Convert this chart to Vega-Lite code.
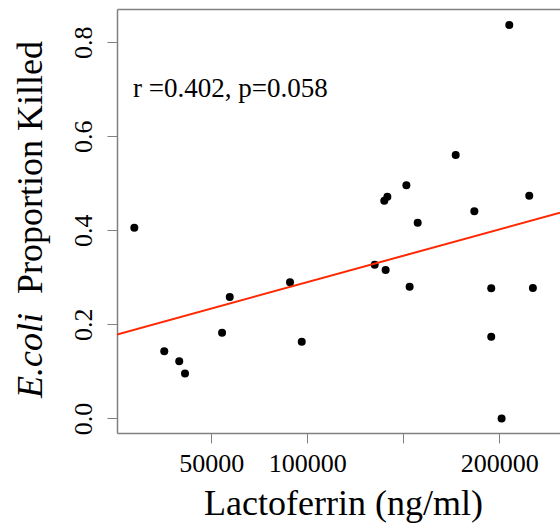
{
  "$schema": "https://vega.github.io/schema/vega-lite/v6.json",
  "autosize": {"type": "none"},
  "padding": {"left": 117, "top": 9, "right": 0, "bottom": 96},
  "width": 443,
  "height": 424,
  "background": "white",
  "config": {
    "font": "Liberation Serif",
    "view": {"stroke": null},
    "text": {"font": "Liberation Serif"},
    "axis": {
      "domainColor": "#808080",
      "tickColor": "#808080",
      "domainWidth": 1.5,
      "tickWidth": 1,
      "tickSize": 10,
      "grid": false,
      "labelColor": "black",
      "titleColor": "black",
      "labelFont": "Liberation Serif",
      "titleFont": "Liberation Serif",
      "labelFontWeight": "normal",
      "titleFontWeight": "normal"
    }
  },
  "layer": [
    {
      "data": {
        "values": [
          {"lactoferrin": 9900, "killed": 0.4055},
          {"lactoferrin": 25500, "killed": 0.1426},
          {"lactoferrin": 33300, "killed": 0.1213},
          {"lactoferrin": 36300, "killed": 0.0957},
          {"lactoferrin": 55600, "killed": 0.1821},
          {"lactoferrin": 59600, "killed": 0.2581},
          {"lactoferrin": 91000, "killed": 0.2894},
          {"lactoferrin": 97100, "killed": 0.1630},
          {"lactoferrin": 135100, "killed": 0.3268},
          {"lactoferrin": 140800, "killed": 0.3155},
          {"lactoferrin": 140100, "killed": 0.4630},
          {"lactoferrin": 141700, "killed": 0.4715},
          {"lactoferrin": 151600, "killed": 0.4957},
          {"lactoferrin": 153300, "killed": 0.2800},
          {"lactoferrin": 157500, "killed": 0.4162},
          {"lactoferrin": 177300, "killed": 0.5602},
          {"lactoferrin": 187000, "killed": 0.4404},
          {"lactoferrin": 195800, "killed": 0.2766},
          {"lactoferrin": 195800, "killed": 0.1736},
          {"lactoferrin": 201200, "killed": 0.0},
          {"lactoferrin": 205200, "killed": 0.8368},
          {"lactoferrin": 215600, "killed": 0.4736},
          {"lactoferrin": 217500, "killed": 0.2772}
        ]
      },
      "mark": {"type": "circle", "size": 64, "color": "black", "opacity": 1},
      "encoding": {
        "x": {
          "field": "lactoferrin",
          "type": "quantitative",
          "scale": {"domain": [885, 231615], "nice": false, "zero": false},
          "axis": {
            "orient": "bottom",
            "values": [50000, 100000, 150000, 200000],
            "labelExpr": "datum.value == 150000 ? '' : format(datum.value, 'd')",
            "labelFont": "Liberation Serif",
            "labelFontSize": 26,
            "labelBaseline": "alphabetic",
            "labelPadding": 28,
            "labelFlush": false,
            "labelOverlap": false,
            "title": "Lactoferrin (ng/ml)",
            "titleFont": "Liberation Serif",
            "titleFontSize": 36,
            "titleX": 226,
            "titleY": 81,
            "titleBaseline": "alphabetic",
            "titleAlign": "center"
          }
        },
        "y": {
          "field": "killed",
          "type": "quantitative",
          "scale": {"domain": [-0.0311, 0.8709], "nice": false, "zero": false},
          "axis": {
            "orient": "left",
            "values": [0, 0.2, 0.4, 0.6, 0.8],
            "format": ".1f",
            "labelFont": "Liberation Serif",
            "labelFontSize": 26,
            "labelAngle": -90,
            "labelAlign": "center",
            "labelBaseline": "alphabetic",
            "labelPadding": 16,
            "labelFlush": false,
            "labelOverlap": false,
            "title": "Proportion Killed",
            "titleFont": "Liberation Serif",
            "titleFontSize": 36,
            "titleAngle": -90,
            "titleX": -76,
            "titleY": 158,
            "titleAlign": "center",
            "titleBaseline": "alphabetic"
          }
        }
      }
    },
    {
      "data": {
        "values": [
          {"lactoferrin": 885, "killed": 0.1786},
          {"lactoferrin": 231615, "killed": 0.4375}
        ]
      },
      "mark": {"type": "line", "color": "#ff2800", "strokeWidth": 2, "clip": true},
      "encoding": {
        "x": {
          "field": "lactoferrin",
          "type": "quantitative",
          "scale": {"domain": [885, 231615], "nice": false, "zero": false},
          "axis": {"orient": "top", "labels": false, "ticks": false, "domain": true, "title": null}
        },
        "y": {
          "field": "killed",
          "type": "quantitative",
          "scale": {"domain": [-0.0311, 0.8709], "nice": false, "zero": false},
          "axis": {
            "orient": "left",
            "labels": false,
            "ticks": false,
            "domain": false,
            "title": "E.coli",
            "titleFont": "Liberation Serif",
            "titleFontSize": 36,
            "titleFontStyle": "italic",
            "titleAngle": -90,
            "titleX": -76,
            "titleY": 346,
            "titleAlign": "center",
            "titleBaseline": "alphabetic"
          }
        }
      }
    },
    {
      "data": {"values": [{"label": "r =0.402, p=0.058"}]},
      "mark": {"type": "text", "fontSize": 27, "align": "left", "baseline": "alphabetic", "font": "Liberation Serif", "color": "black"},
      "encoding": {
        "text": {"field": "label", "type": "nominal"},
        "x": {"datum": 9200, "type": "quantitative", "scale": {"domain": [885, 231615], "nice": false, "zero": false}, "axis": null},
        "y": {"datum": 0.684, "type": "quantitative", "scale": {"domain": [-0.0311, 0.8709], "nice": false, "zero": false}, "axis": null}
      }
    }
  ],
  "resolve": {"axis": {"x": "independent", "y": "independent"}}
}
